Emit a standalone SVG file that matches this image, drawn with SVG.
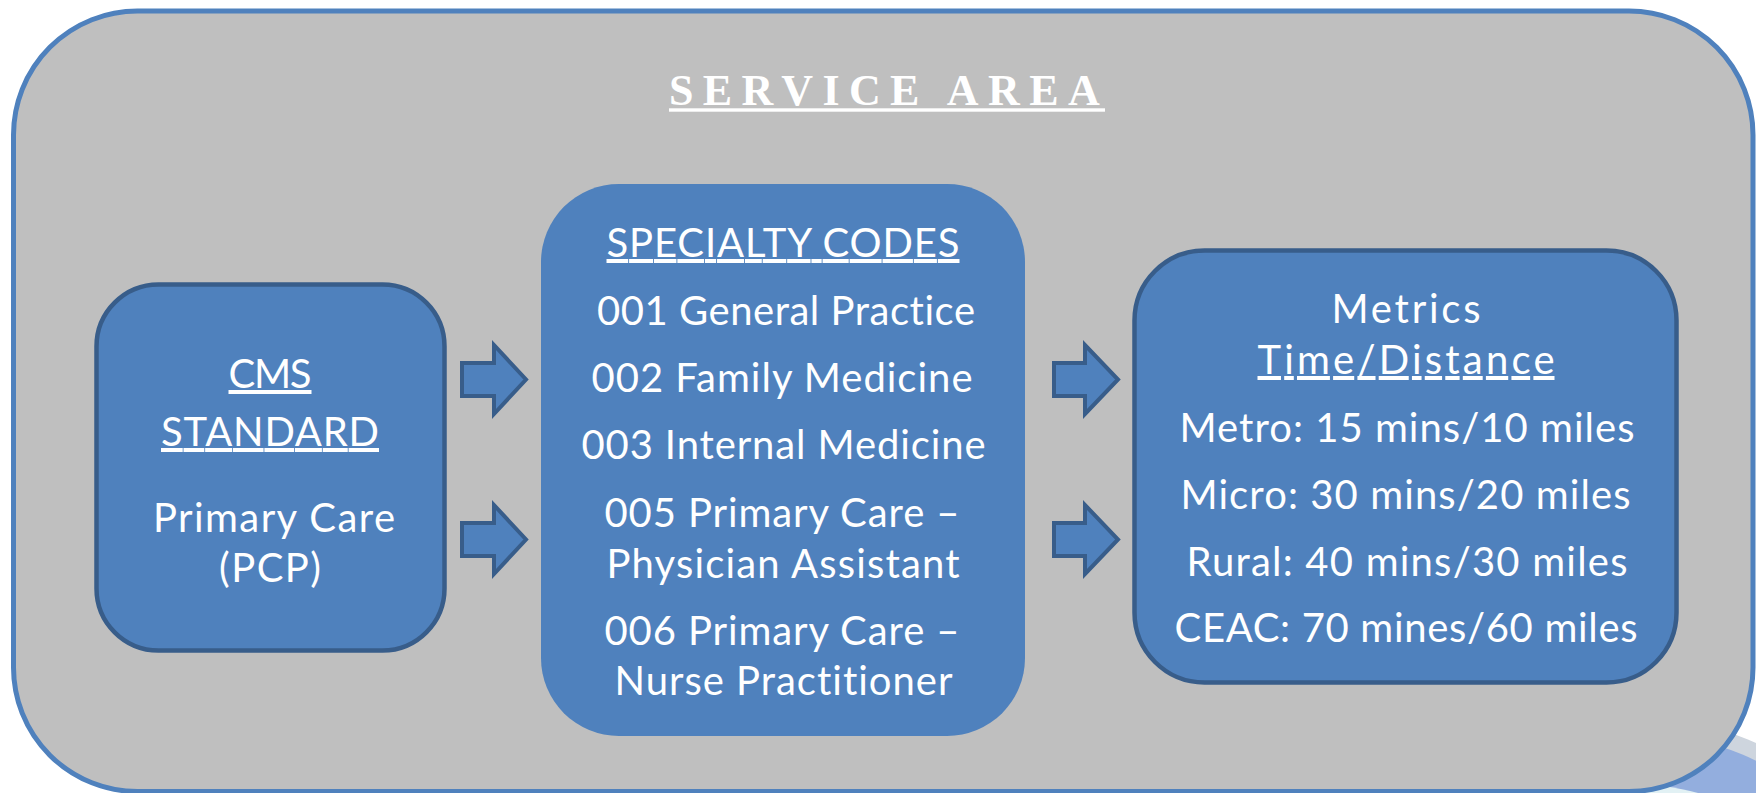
<svg xmlns="http://www.w3.org/2000/svg" width="1756" height="793" viewBox="0 0 1756 793">
  <style>
    .frame { fill: #bfbfbf; stroke: #4f81bd; stroke-width: 5; }
    .box { fill: #4f81bd; stroke: #385d8a; stroke-width: 4.5; }
    .box-plain { fill: #4f81bd; stroke: none; }
    .arrow { fill: #4f81bd; stroke: #385d8a; stroke-width: 4; stroke-linejoin: miter; }
    .lbl { font-family: Lato, "Liberation Sans", Arial, sans-serif; font-size: 40px; fill: #ffffff; text-anchor: middle; font-variant-ligatures: none; font-feature-settings: "liga" 0, "clig" 0; }
    .ul { text-decoration: underline; }
    .title { font-family: "Liberation Serif", "Times New Roman", serif; font-size: 44px; font-weight: bold; fill: #ffffff; letter-spacing: 9.4px; }
  </style>

  <!-- partial emblem peeking out behind the bottom-right corner -->
  <g id="emblem">
    <circle cx="1640" cy="1000" r="282" fill="#ced5de"/>
    <circle cx="1640" cy="1000" r="266" fill="#93aede"/>
    <circle cx="1640" cy="1000" r="215" fill="#e2f1f4"/>
  </g>

  <!-- service area frame -->
  <g id="service-area">
    <rect class="frame" x="13.5" y="11" width="1739.5" height="780.5" rx="124" ry="124"/>
    <text class="title" x="669" y="105">SERVICE AREA</text>
    <rect x="669" y="108.3" width="436" height="3.4" fill="#ffffff"/>
  </g>

  <!-- connectors -->
  <g id="connectors">
    <path class="arrow" d="M462,363 H494 V345 L526,379.5 L494,414 V396 H462 Z"/>
    <path class="arrow" d="M462,523 H494 V505 L526,539.5 L494,574 V556 H462 Z"/>
    <path class="arrow" d="M1054,363 H1085 V345 L1118,379.5 L1085,414 V396 H1054 Z"/>
    <path class="arrow" d="M1054,523 H1085 V505 L1118,539.5 L1085,574 V556 H1054 Z"/>
  </g>

  <!-- CMS standard -->
  <g id="cms-standard">
    <rect class="box" x="96.5" y="284.5" width="348" height="366" rx="62" ry="62"/>
    <text class="lbl ul" x="270" y="388" textLength="83">CMS</text>
    <text class="lbl ul" x="270" y="446" textLength="218">STANDARD</text>
    <text class="lbl" x="274" y="532" textLength="242">Primary Care</text>
    <text class="lbl" x="270" y="582" textLength="102">(PCP)</text>
  </g>

  <!-- specialty codes -->
  <g id="specialty-codes">
    <rect class="box-plain" x="541" y="184" width="484" height="552" rx="78" ry="78"/>
    <text class="lbl ul" x="783" y="257" textLength="353">SPECIALTY CODES</text>
    <text class="lbl" x="786" y="325" textLength="378">001 General Practice</text>
    <text class="lbl" x="782" y="392" textLength="381">002 Family Medicine</text>
    <text class="lbl" x="783.5" y="459" textLength="404">003 Internal Medicine</text>
    <text class="lbl" x="782" y="527" textLength="355">005 Primary Care –</text>
    <text class="lbl" x="783" y="578" textLength="353">Physician Assistant</text>
    <text class="lbl" x="782" y="645" textLength="355">006 Primary Care –</text>
    <text class="lbl" x="783.5" y="695" textLength="338">Nurse Practitioner</text>
  </g>

  <!-- metrics -->
  <g id="metrics">
    <rect class="box" x="1134.5" y="250.5" width="542" height="432" rx="70" ry="70"/>
    <text class="lbl" x="1406" y="323" textLength="149">Metrics</text>
    <text class="lbl ul" x="1406" y="374" textLength="297">Time/Distance</text>
    <text class="lbl" x="1407" y="442" textLength="455">Metro: 15 mins/10 miles</text>
    <text class="lbl" x="1405.5" y="509" textLength="450">Micro: 30 mins/20 miles</text>
    <text class="lbl" x="1407" y="576" textLength="441">Rural: 40 mins/30 miles</text>
    <text class="lbl" x="1406" y="642" textLength="463">CEAC: 70 mines/60 miles</text>
  </g>
</svg>
